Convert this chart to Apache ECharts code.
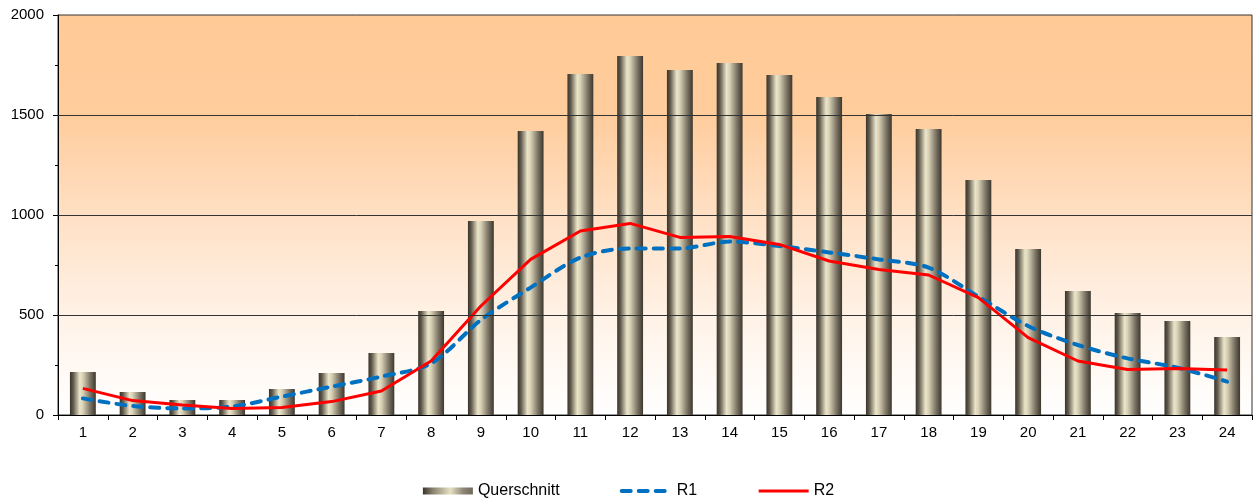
<!DOCTYPE html>
<html>
<head>
<meta charset="utf-8">
<script src="https://cdn.jsdelivr.net/npm/echarts@6/dist/echarts.min.js"></script>
<style>
html,body{margin:0;padding:0;background:#fff;}
#c{width:1257px;height:500px;}
</style>
</head>
<body>
<div id="c"></div>
<script>
const categories = ['1','2','3','4','5','6','7','8','9','10','11','12','13','14','15','16','17','18','19','20','21','22','23','24'];
const querschnitt = [215,115,75,75,130,210,310,520,970,1420,1705,1795,1725,1760,1700,1590,1505,1430,1175,830,620,510,470,390];
const r1 = [83,45,33,42,92,142,192,258,475,637,787,833,833,867,845,813,778,737,592,445,350,283,237,167];
const r2 = [133,72,50,33,38,67,120,270,545,778,920,958,888,892,853,770,728,700,587,387,270,228,233,225];
const gridLines = [500,1000,1500];

const FONT = 'Liberation Sans, Arial, sans-serif';
const chart = echarts.init(document.getElementById('c'));
const barGrad = new echarts.graphic.LinearGradient(0,0,1,0,[
  {offset:0,color:'#39342a'},
  {offset:0.12,color:'#5e574a'},
  {offset:0.38,color:'#ebe5ca'},
  {offset:0.5,color:'#d8d1b6'},
  {offset:0.78,color:'#7d7565'},
  {offset:1,color:'#3c372e'}
]);
const legendBarGrad = new echarts.graphic.LinearGradient(0,0,1,0,[
  {offset:0,color:'#3a352c'},
  {offset:0.2,color:'#8a8370'},
  {offset:0.55,color:'#e6e0c4'},
  {offset:0.8,color:'#8f8878'},
  {offset:1,color:'#6e685c'}
]);
const bgGrad = new echarts.graphic.LinearGradient(0,0,0,1,[
  {offset:0,color:'#ffca96'},
  {offset:0.25,color:'#ffcc9c'},
  {offset:0.55,color:'#ffe4cc'},
  {offset:0.8,color:'#fff5ec'},
  {offset:1,color:'#ffffff'}
]);
chart.setOption({
  animation:false,
  textStyle:{fontFamily:FONT},
  grid:{left:58,right:5,top:15,bottom:85,show:true,backgroundColor:bgGrad,borderColor:'#333',borderWidth:1},
  legend:{
    bottom:-4,left:'center',itemWidth:50,itemHeight:7,itemGap:60,
    textStyle:{fontFamily:FONT,fontSize:16,color:'#000'},
    data:[
      {name:'Querschnitt',icon:'rect',itemStyle:{color:legendBarGrad}},
      {name:'R1',itemStyle:{opacity:0},lineStyle:{color:'#0070c0',width:4,type:[9,8],cap:'round'}},
      {name:'R2',itemStyle:{opacity:0},lineStyle:{color:'#ff0000',width:3,type:'solid'}}
    ]
  },
  xAxis:{
    type:'category',data:categories,boundaryGap:true,
    axisLine:{lineStyle:{color:'#000',width:1}},
    axisTick:{show:true,length:5,lineStyle:{color:'#000'}},
    axisLabel:{color:'#000',fontSize:15,fontFamily:FONT,margin:10},
    splitLine:{show:false}
  },
  yAxis:{
    type:'value',min:0,max:2000,interval:500,
    axisLine:{show:true,lineStyle:{color:'#000',width:1}},
    axisTick:{show:true,length:5,lineStyle:{color:'#000'}},
    minorTick:{show:true,splitNumber:2,length:3,lineStyle:{color:'#000'}},
    axisLabel:{color:'#000',fontSize:15,fontFamily:FONT,margin:14,formatter:v=>String(v)},
    splitLine:{show:false}
  },
  series:[
    {
      name:'Querschnitt',type:'bar',data:querschnitt,barWidth:'52%',
      itemStyle:{color:barGrad},
      markLine:{
        silent:true,symbol:['none','none'],label:{show:false},
        lineStyle:{color:'#333',width:1,type:'solid'},
        data:gridLines.map(v=>({yAxis:v}))
      }
    },
    {
      name:'R1',type:'line',data:r1,smooth:0.3,symbol:'none',
      lineStyle:{color:'#0070c0',width:4,type:[9,8],cap:'round'},
      itemStyle:{color:'#0070c0'}
    },
    {
      name:'R2',type:'line',data:r2,smooth:false,symbol:'none',
      lineStyle:{color:'#ff0000',width:3},
      itemStyle:{color:'#ff0000'}
    }
  ]
});
</script>
</body>
</html>
